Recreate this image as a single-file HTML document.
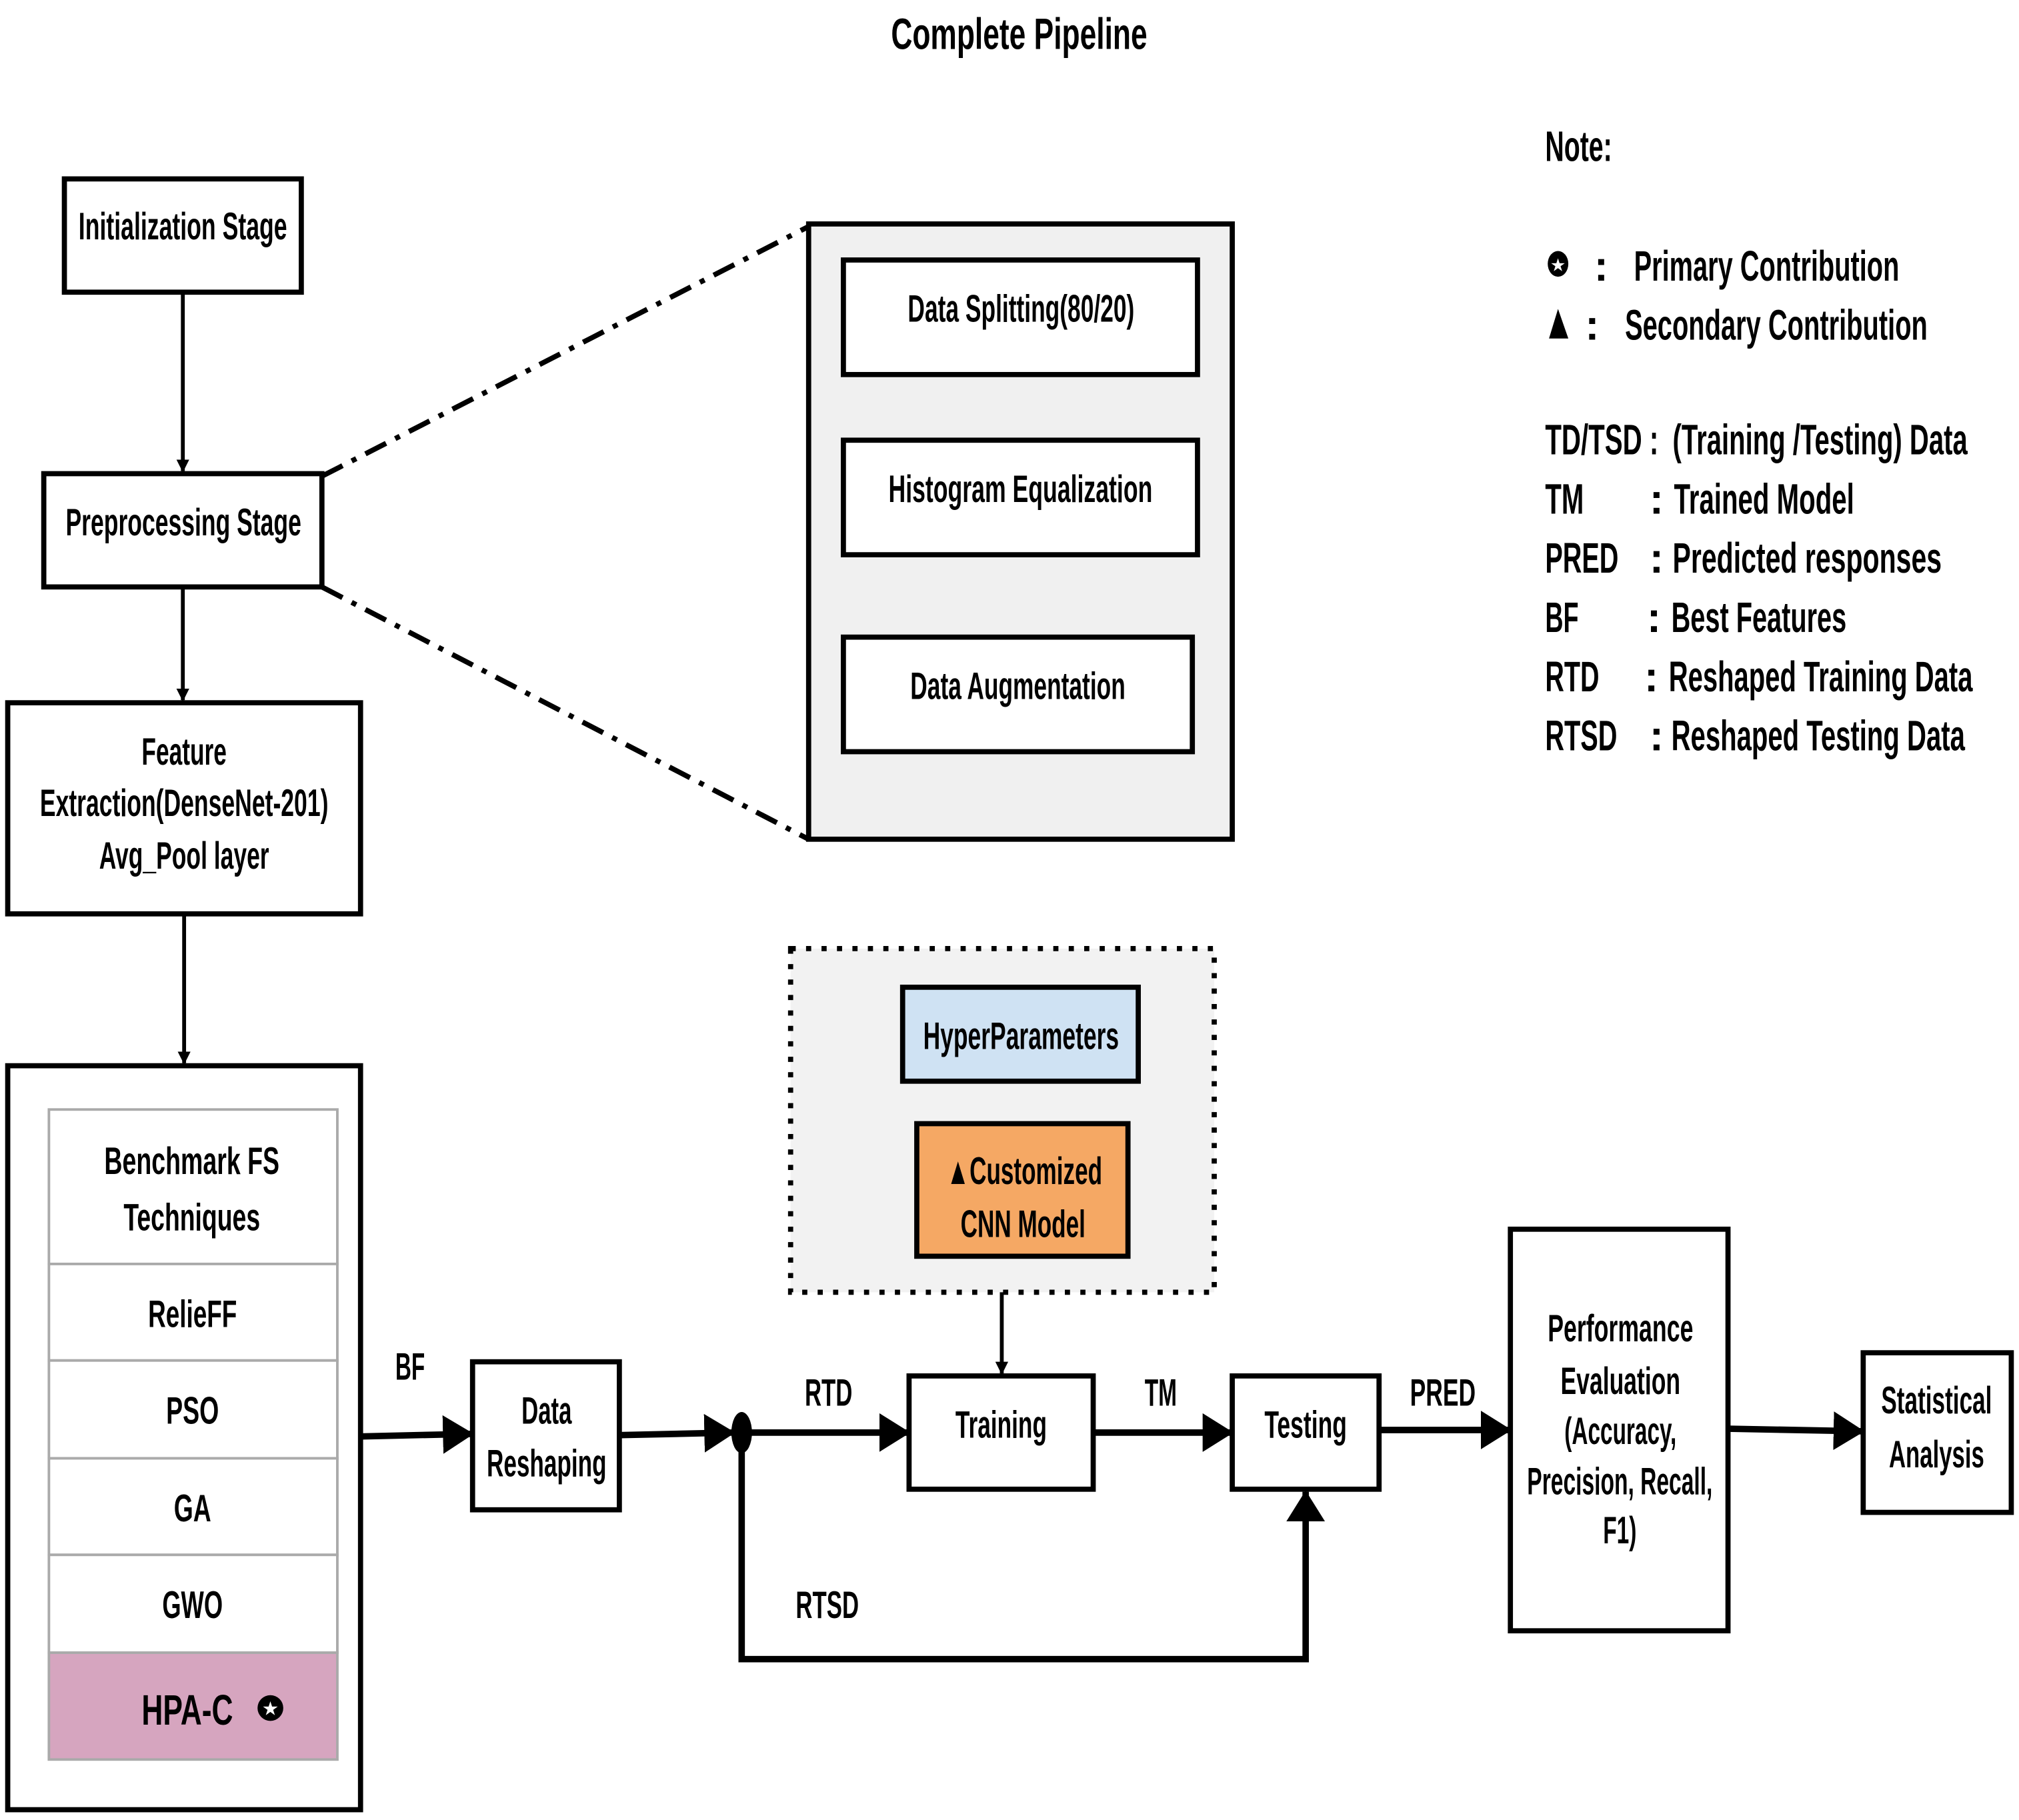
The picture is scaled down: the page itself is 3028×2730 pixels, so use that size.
<!DOCTYPE html>
<html><head><meta charset="utf-8"><style>html,body{margin:0;padding:0;background:#fff}svg{display:block}</style></head><body>
<svg width="3028" height="2730" viewBox="0 0 1568 1414" preserveAspectRatio="none" xmlns="http://www.w3.org/2000/svg" font-family="'Liberation Sans Narrow','Liberation Sans',sans-serif" font-weight="bold" fill="#000">
<defs><marker id="a" markerWidth="10" markerHeight="10" refX="9" refY="5" orient="auto" markerUnits="userSpaceOnUse"><path d="M0,0 L10,5 L0,10z"/></marker>
<marker id="b" markerWidth="24" markerHeight="30" refX="23" refY="15" orient="auto" markerUnits="userSpaceOnUse"><path d="M0,0 L24,15 L0,30z"/></marker></defs>
<text x="692" y="38" textLength="199" lengthAdjust="spacingAndGlyphs" font-size="34">Complete Pipeline</text>
<rect x="614" y="737" width="329" height="267" fill="#f2f2f2" stroke="#000" stroke-width="4" stroke-dasharray="4,8"/>
<g stroke="#000" stroke-width="4" fill="#fff">
<rect x="50" y="139" width="184" height="88"/>
<rect x="34" y="368" width="216" height="88"/>
<rect x="6" y="546" width="274" height="164"/>
<rect x="6" y="828" width="274" height="578"/>
<rect x="628" y="174" width="329" height="478" fill="#f0f0f0"/>
<rect x="655" y="202" width="275" height="89"/>
<rect x="655" y="342" width="275" height="89"/>
<rect x="655" y="495" width="271" height="89"/>
<rect x="701" y="767" width="183" height="73" fill="#cfe2f3"/>
<rect x="712" y="873" width="164" height="103" fill="#f5a864"/>
<rect x="706" y="1069" width="143" height="88"/>
<rect x="957" y="1069" width="114" height="88"/>
<rect x="367" y="1058" width="114" height="115"/>
<rect x="1173" y="955" width="169" height="312"/>
<rect x="1447" y="1051" width="115" height="124"/>
</g>
<g stroke="#aaa" stroke-width="2" fill="#fff">
<rect x="38" y="862" width="224" height="120"/>
<rect x="38" y="982" width="224" height="75"/>
<rect x="38" y="1057" width="224" height="76"/>
<rect x="38" y="1133" width="224" height="75"/>
<rect x="38" y="1208" width="224" height="76"/>
<rect x="38" y="1284" width="224" height="83" fill="#d6a5bf"/>
</g>
<g stroke="#000" stroke-width="4" fill="none" stroke-dasharray="18,8,4,8">
<line x1="250" y1="370" x2="628" y2="176"/>
<line x1="250" y1="456" x2="628" y2="652"/>
</g>
<g stroke="#000" stroke-width="3" fill="none">
<line x1="142" y1="227" x2="142" y2="366" marker-end="url(#a)"/>
<line x1="142" y1="456" x2="142" y2="544" marker-end="url(#a)"/>
<line x1="143" y1="710" x2="143" y2="826" marker-end="url(#a)"/>
<line x1="778" y1="1004" x2="778" y2="1067" marker-end="url(#a)"/>
</g>
<g stroke="#000" stroke-width="5" fill="none">
<line x1="280" y1="1116" x2="367" y2="1114" marker-end="url(#b)"/>
<line x1="481" y1="1115" x2="570" y2="1113" marker-end="url(#b)"/>
<line x1="576" y1="1113" x2="706" y2="1113" marker-end="url(#b)"/>
<line x1="849" y1="1113" x2="957" y2="1113" marker-end="url(#b)"/>
<line x1="1071" y1="1111" x2="1173" y2="1111" marker-end="url(#b)"/>
<line x1="1342" y1="1110" x2="1447" y2="1112" marker-end="url(#b)"/>
<path d="M576,1113 V1289 H1014 V1159" marker-end="url(#b)"/>
</g>
<ellipse cx="576" cy="1113" rx="8" ry="16"/>
<g font-size="30">
<text x="61" y="186" textLength="162" lengthAdjust="spacingAndGlyphs">Initialization Stage</text>
<text x="51" y="416" textLength="183" lengthAdjust="spacingAndGlyphs">Preprocessing Stage</text>
<text x="110" y="594" textLength="66" lengthAdjust="spacingAndGlyphs">Feature</text>
<text x="31" y="634" textLength="224" lengthAdjust="spacingAndGlyphs">Extraction(DenseNet-201)</text>
<text x="77" y="675" textLength="132" lengthAdjust="spacingAndGlyphs">Avg_Pool layer</text>
<text x="705" y="250" textLength="176" lengthAdjust="spacingAndGlyphs">Data Splitting(80/20)</text>
<text x="690" y="390" textLength="205" lengthAdjust="spacingAndGlyphs">Histogram Equalization</text>
<text x="707" y="543" textLength="167" lengthAdjust="spacingAndGlyphs">Data Augmentation</text>
<text x="717" y="815" textLength="152" lengthAdjust="spacingAndGlyphs">HyperParameters</text>
<text x="735" y="920" textLength="121" lengthAdjust="spacingAndGlyphs">▲Customized</text>
<text x="746" y="961" textLength="97" lengthAdjust="spacingAndGlyphs">CNN Model</text>
<text x="81" y="912" textLength="136" lengthAdjust="spacingAndGlyphs">Benchmark FS</text>
<text x="96" y="956" textLength="106" lengthAdjust="spacingAndGlyphs">Techniques</text>
<text x="115" y="1031" textLength="69" lengthAdjust="spacingAndGlyphs">RelieFF</text>
<text x="129" y="1106" textLength="41" lengthAdjust="spacingAndGlyphs">PSO</text>
<text x="135" y="1182" textLength="29" lengthAdjust="spacingAndGlyphs">GA</text>
<text x="126" y="1257" textLength="47" lengthAdjust="spacingAndGlyphs">GWO</text>
<text x="110" y="1340" textLength="71" lengthAdjust="spacingAndGlyphs" font-size="33">HPA-C</text>
<text x="307" y="1072" textLength="23" lengthAdjust="spacingAndGlyphs">BF</text>
<text x="405" y="1106" textLength="39" lengthAdjust="spacingAndGlyphs">Data</text>
<text x="378" y="1147" textLength="93" lengthAdjust="spacingAndGlyphs">Reshaping</text>
<text x="625" y="1092" textLength="37" lengthAdjust="spacingAndGlyphs">RTD</text>
<text x="742" y="1117" textLength="71" lengthAdjust="spacingAndGlyphs">Training</text>
<text x="889" y="1092" textLength="25" lengthAdjust="spacingAndGlyphs">TM</text>
<text x="982" y="1117" textLength="64" lengthAdjust="spacingAndGlyphs">Testing</text>
<text x="1095" y="1092" textLength="51" lengthAdjust="spacingAndGlyphs">PRED</text>
<text x="618" y="1257" textLength="49" lengthAdjust="spacingAndGlyphs">RTSD</text>
<text x="1202" y="1042" textLength="113" lengthAdjust="spacingAndGlyphs">Performance</text>
<text x="1212" y="1083" textLength="93" lengthAdjust="spacingAndGlyphs">Evaluation</text>
<text x="1215" y="1122" textLength="87" lengthAdjust="spacingAndGlyphs">(Accuracy,</text>
<text x="1186" y="1161" textLength="144" lengthAdjust="spacingAndGlyphs">Precision, Recall,</text>
<text x="1245" y="1199" textLength="26" lengthAdjust="spacingAndGlyphs">F1)</text>
<text x="1461" y="1098" textLength="86" lengthAdjust="spacingAndGlyphs">Statistical</text>
<text x="1467" y="1140" textLength="74" lengthAdjust="spacingAndGlyphs">Analysis</text>
</g>
<circle cx="210" cy="1327" r="10"/>
<text x="210" y="1332" font-size="13" fill="#fff" text-anchor="middle">★</text>
<g font-size="33">
<text x="1200" y="125" textLength="52" lengthAdjust="spacingAndGlyphs">Note:</text>
<text x="1238" y="218">:</text>
<text x="1269" y="218" textLength="206" lengthAdjust="spacingAndGlyphs">Primary Contribution</text>
<text x="1231" y="264">:</text>
<text x="1262" y="264" textLength="235" lengthAdjust="spacingAndGlyphs">Secondary Contribution</text>
<text x="1200" y="353" textLength="88" lengthAdjust="spacingAndGlyphs">TD/TSD :</text>
<text x="1299" y="353" textLength="229" lengthAdjust="spacingAndGlyphs">(Training /Testing) Data</text>
<text x="1200" y="399" textLength="30" lengthAdjust="spacingAndGlyphs">TM</text>
<text x="1281" y="399">:</text>
<text x="1300" y="399" textLength="140" lengthAdjust="spacingAndGlyphs">Trained Model</text>
<text x="1200" y="445" textLength="57" lengthAdjust="spacingAndGlyphs">PRED</text>
<text x="1281" y="445">:</text>
<text x="1299" y="445" textLength="209" lengthAdjust="spacingAndGlyphs">Predicted  responses</text>
<text x="1200" y="491" textLength="26" lengthAdjust="spacingAndGlyphs">BF</text>
<text x="1279" y="491">:</text>
<text x="1298" y="491" textLength="136" lengthAdjust="spacingAndGlyphs">Best Features</text>
<text x="1200" y="537" textLength="42" lengthAdjust="spacingAndGlyphs">RTD</text>
<text x="1277" y="537">:</text>
<text x="1296" y="537" textLength="236" lengthAdjust="spacingAndGlyphs">Reshaped Training Data</text>
<text x="1200" y="583" textLength="56" lengthAdjust="spacingAndGlyphs">RTSD</text>
<text x="1281" y="583">:</text>
<text x="1298" y="583" textLength="228" lengthAdjust="spacingAndGlyphs">Reshaped Testing Data</text>
</g>
<ellipse cx="1210" cy="205" rx="8" ry="10"/>
<text x="1210" y="210" font-size="12" fill="#fff" text-anchor="middle">★</text>
<path d="M1203,263 L1210,240 L1218,263z"/>
</svg>
</body></html>
